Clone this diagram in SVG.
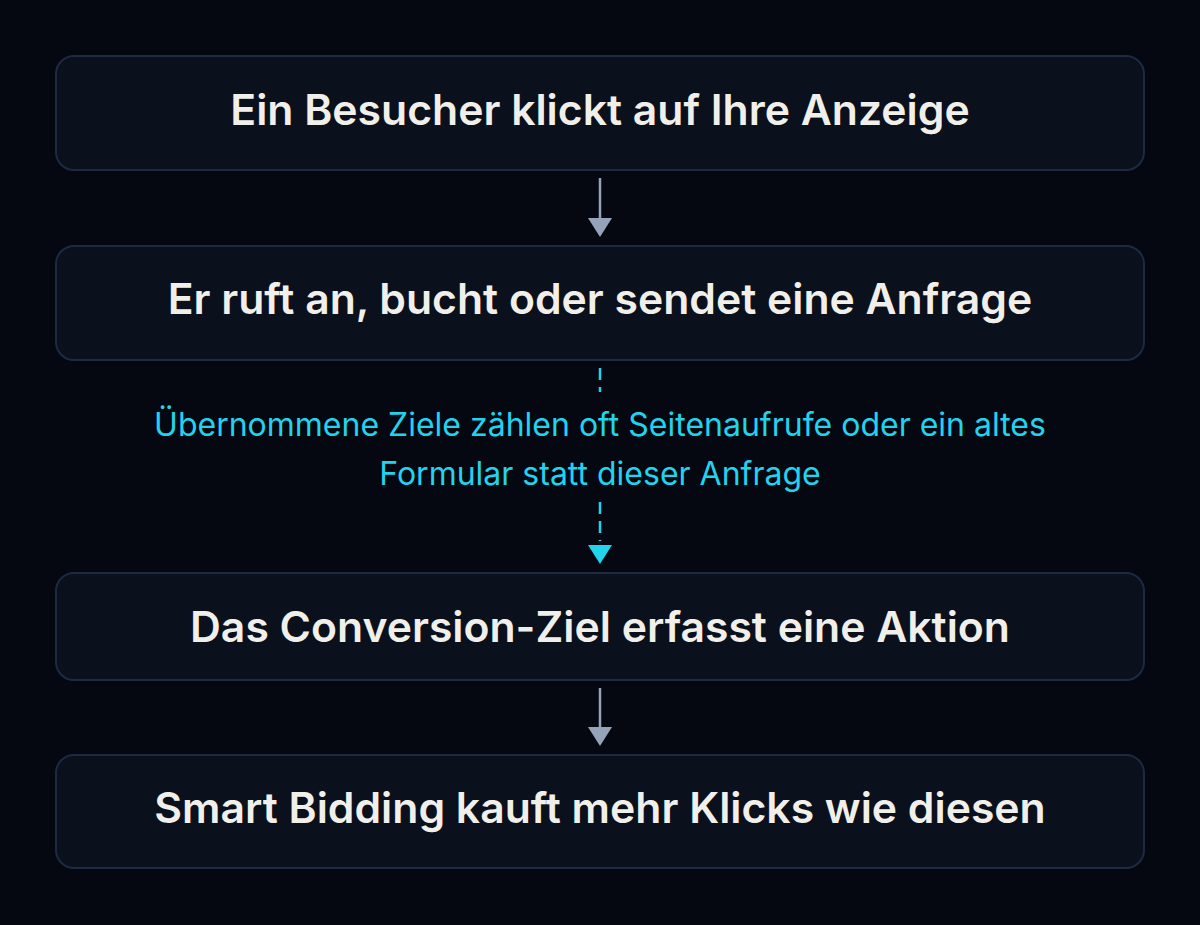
<svg xmlns="http://www.w3.org/2000/svg" width="1200" height="925" viewBox="0 0 1200 925">
<style>
.bg{fill:#050810}
.box{fill:#0a101c;stroke:#1e2943;stroke-width:2}
.t{font-family:Inter,"Noto Sans",sans-serif;font-size:42.7px;font-weight:600;fill:#f1efe9;text-anchor:middle}
.n{font-family:Inter,"Noto Sans",sans-serif;font-size:32px;font-weight:400;fill:#22d3ee;text-anchor:middle}
.c{stroke:#94a3b8;stroke-width:2.5;fill:none}
.d{stroke:#22d3ee;stroke-width:2.5;fill:none;stroke-dasharray:12 7}
</style>
<rect class="bg" width="1200" height="925"/>
<g id="n1"><rect class="box" x="56" y="56" width="1088" height="114" rx="18"/><text class="t" x="600" y="125">Ein Besucher klickt auf Ihre Anzeige</text></g>
<g id="n2"><rect class="box" x="56" y="246" width="1088" height="114" rx="18"/><text class="t" x="600" y="314">Er ruft an, bucht oder sendet eine Anfrage</text></g>
<g id="n3"><rect class="box" x="56" y="573" width="1088" height="107" rx="18"/><text class="t" x="600" y="642">Das Conversion-Ziel erfasst eine Aktion</text></g>
<g id="n4"><rect class="box" x="56" y="755" width="1088" height="113" rx="18"/><text class="t" x="600" y="823">Smart Bidding kauft mehr Klicks wie diesen</text></g>
<g id="connectors">
<line class="c" x1="600" y1="178" x2="600" y2="220"/>
<polygon points="588,218 612,218 600,237" fill="#94a3b8"/>
<line class="d" x1="600" y1="368" x2="600" y2="392"/>
<line class="d" x1="600" y1="502" x2="600" y2="541"/>
<polygon points="588,545 612,545 600,564" fill="#22d3ee"/>
<line class="c" x1="600" y1="688" x2="600" y2="729"/>
<polygon points="588,727 612,727 600,746" fill="#94a3b8"/>
<text class="n" x="600" y="436">Übernommene Ziele zählen oft Seitenaufrufe oder ein altes</text>
<text class="n" x="600" y="485">Formular statt dieser Anfrage</text>
</g>
</svg>
